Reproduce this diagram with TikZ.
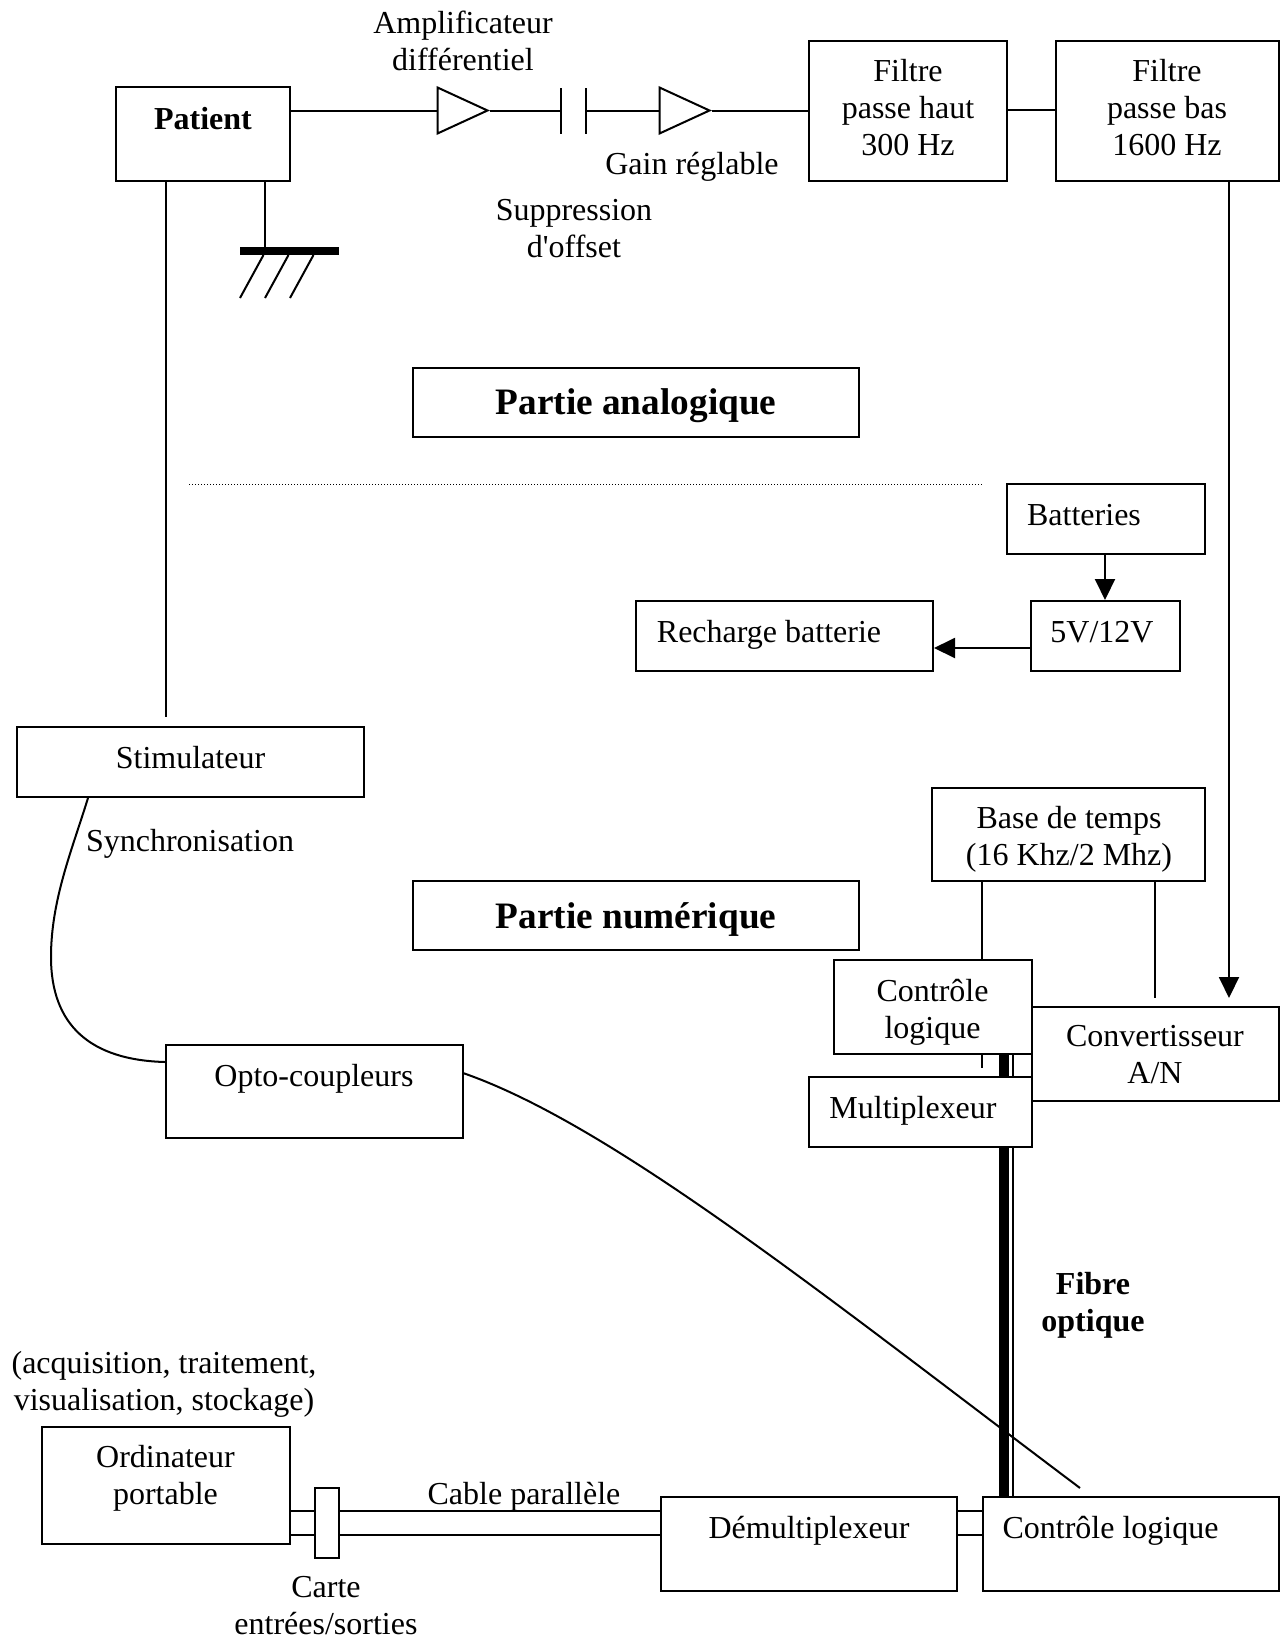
\documentclass[tikz,border=0pt]{standalone}
\usepackage{fontspec}
\setmainfont{Liberation Serif}
\usetikzlibrary{shapes.geometric,arrows.meta}
\tikzset{
  boxn/.style={draw=black,fill=white,line width=2pt,rectangle,inner sep=0pt},
  lbl/.style={inner sep=0pt,align=center,font=\fontsize{32}{37}\selectfont,execute at begin node=\strut,execute at end node=\strut},
  lblb/.style={lbl,font=\fontsize{32}{37}\selectfont\bfseries},
  head/.style={inner sep=0pt,align=center,font=\fontsize{37.3}{43}\selectfont\bfseries},
  wire/.style={line width=2pt,draw=black},
  ampli/.style={isosceles triangle,isosceles triangle stretches,draw=black,fill=white,line width=2pt,inner sep=0pt,minimum width=46pt,minimum height=50pt,anchor=lower side},
  arr/.style={wire,-{Triangle[length=21pt,width=20pt]}},
  capa/.style={line width=2pt,draw=black},
}
\newcommand{\bx}[6][]{%
  \pgfmathsetmacro{\cxx}{(#3+#5)/2}\pgfmathsetmacro{\cyy}{(#4+#6)/2}%
  \pgfmathsetmacro{\wdd}{#5-#3}\pgfmathsetmacro{\htt}{#6-#4}%
  \node[boxn,minimum width=\wdd pt,minimum height=\htt pt,#1] (#2) at (\cxx,\cyy) {};}
\begin{document}
\begin{tikzpicture}[x=1pt,y=-1pt]
\useasboundingbox (0,0) rectangle (1284,1638);
% amplifier chain helpers
\coordinate (capL) at (561,110.5);
\coordinate (capR) at (586,110.5);
\coordinate (capLt) at (561,88);
\coordinate (capLb) at (561,134);
\coordinate (capRt) at (586,88);
\coordinate (capRb) at (586,134);
\coordinate (gndT) at (265,251);
\coordinate (gndL) at (240,251);
\coordinate (gndR) at (339,251);
\coordinate (h1a) at (263.5,255);\coordinate (h1b) at (240,298);
\coordinate (h2a) at (288.5,255);\coordinate (h2b) at (265,298);
\coordinate (h3a) at (313.5,255);\coordinate (h3b) at (290,298);
\coordinate (baseEndA) at (982,1068);
\coordinate (baseEndB) at (1155,998);
\coordinate (dotL) at (189,484);
\coordinate (dotR) at (983,484);
% boxes that lie behind nothing
\bx{patient}{115.5}{87}{290}{181}
\bx{fhaut}{808.5}{41}{1007}{181}
\bx{fbas}{1056}{41}{1279}{181}
\bx{titana}{413}{368}{859}{437}
\bx{batt}{1007}{484}{1205}{554}
\bx{cinqv}{1031}{601}{1180}{671}
\bx{rech}{636}{601}{933}{671}
\bx{stim}{17}{727}{364}{797}
\bx{titnum}{413}{881}{859}{950}
\bx{base}{932}{788}{1205}{881}
\bx{opto}{166}{1045}{463}{1138}
\bx{ordi}{42}{1427}{290}{1544}
\bx{demux}{661}{1497}{957}{1591}
\bx{clb}{982.5}{1497}{1279}{1591}
% wires drawn before the boxes that cover them
\draw[wire] (base.south -| baseEndA) -- (baseEndA);
\draw[wire] (base.south -| baseEndB) -- (baseEndB);
\coordinate (fibT) at (1004,1054);
\coordinate (fibT2) at (1013,1054);
\draw[line width=10pt] (fibT) -- (fibT |- clb.north);
\draw[line width=2.5pt] (fibT2) -- (fibT2 |- clb.north);
\bx{conv}{1032}{1007}{1279}{1101}
\bx{clh}{834}{960}{1032}{1054}
\bx{mux}{809}{1077}{1032}{1147}
% amplifiers
\node[ampli] (a1) at (436.5,110.5) {};
\node[ampli] (a2) at (658.5,110.5) {};
% chain
\draw[wire] (patient.east |- a1.lower side) -- (a1.lower side);
\draw[wire] (a1.apex) -- (capL);
\draw[capa] (capLt) -- (capLb);
\draw[capa] (capRt) -- (capRb);
\draw[wire] (capR) -- (a2.lower side);
\draw[wire] (a2.apex) -- (a2.apex -| fhaut.west);
\draw[wire] (fhaut.east |- 0,110) -- (fbas.west |- 0,110);
% ground
\draw[wire] (patient.south -| gndT) -- (gndT);
\draw[line width=8pt] (gndL) -- (gndR);
\draw[wire] (h1a) -- (h1b);
\draw[wire] (h2a) -- (h2b);
\draw[wire] (h3a) -- (h3b);
% others
\coordinate (pstimA) at (166,181);
\coordinate (pstimB) at (166,717);
\draw[wire] (pstimA) -- (pstimB);
\coordinate (fbasOut) at (1229,181);
\coordinate (convIn) at (1229,998);
\draw[arr] (fbasOut) -- (convIn);
\draw[arr] (batt.south -| 1105,0) -- (cinqv.north -| 1105,0);
\draw[arr] (cinqv.west |- 0,648) -- (rech.east |- 0,648);
\draw[line width=1pt,dotted] (dotL) -- (dotR);
% curves
\coordinate (stimOut) at (88,798);
\coordinate (stimMid) at (51,957);
\coordinate (optoIn) at (165,1062);
\draw[wire] (stimOut) .. controls (72,850) and (51,900) .. (stimMid) .. controls (51,1025) and (90,1060) .. (optoIn);
\coordinate (optoOut) at (463,1073);
\coordinate (clbIn) at (1080,1488);
\draw[wire] (optoOut) .. controls (613,1125) and (830,1300) .. (clbIn);
% parallel cable
\draw[wire] (ordi.east |- 0,1511) -- (demux.west |- 0,1511);
\draw[wire] (ordi.east |- 0,1535) -- (demux.west |- 0,1535);
\draw[wire] (demux.east |- 0,1511) -- (clb.west |- 0,1511);
\draw[wire] (demux.east |- 0,1535) -- (clb.west |- 0,1535);
\bx{carte}{314.5}{1488}{339}{1558}
% texts
\node[lbl] (tAmp) at (463,46) {Amplificateur\\différentiel};
\node[lbl] (tSup) at (574,234) {Suppression\\d\textquotesingle offset};
\node[lbl] (tGain) at (692,167.5) {Gain réglable};
\node[lblb] (tPat) at (203,122.5) {Patient};
\node[lbl] (tFh) at (908,113) {Filtre\\passe haut\\300 Hz};
\node[lbl] (tFb) at (1167,113) {Filtre\\passe bas\\1600 Hz};
\node[head] (tAna) at (636,406) {Partie analogique};
\node[lbl] (tBat) at (1084,518) {Batteries};
\node[lbl] (t5v) at (1102,635) {5V/12V};
\node[lbl] (tRech) at (769,635) {Recharge batterie};
\node[lbl] (tStim) at (190.5,761) {Stimulateur};
\node[lbl] (tSync) at (190,844) {Synchronisation};
\node[lbl] (tBase) at (1069,841.5) {Base de temps\\(16 Khz/2 Mhz)};
\node[head] (tNum) at (636,919) {Partie numérique};
\node[lbl] (tClh) at (932.5,1014) {Contrôle\\logique};
\node[lbl] (tConv) at (1155,1060) {Convertisseur\\A/N};
\node[lbl] (tMux) at (913,1111) {Multiplexeur};
\node[lbl] (tOpto) at (314,1079) {Opto-coupleurs};
\node[lblb] (tFib) at (1093,1307) {Fibre\\optique};
\node[lbl] (tAcq) at (164,1386) {(acquisition, traitement,\\visualisation, stockage)};
\node[lbl] (tOrd) at (165.5,1480) {Ordinateur\\portable};
\node[lbl] (tCab) at (524,1497) {Cable parallèle};
\node[lbl] (tDem) at (809,1531) {Démultiplexeur};
\node[lbl] (tClb) at (1110.5,1531) {Contrôle logique};
\node[lbl] (tCart) at (326,1611) {Carte\\entrées/sorties};
\end{tikzpicture}
\end{document}
